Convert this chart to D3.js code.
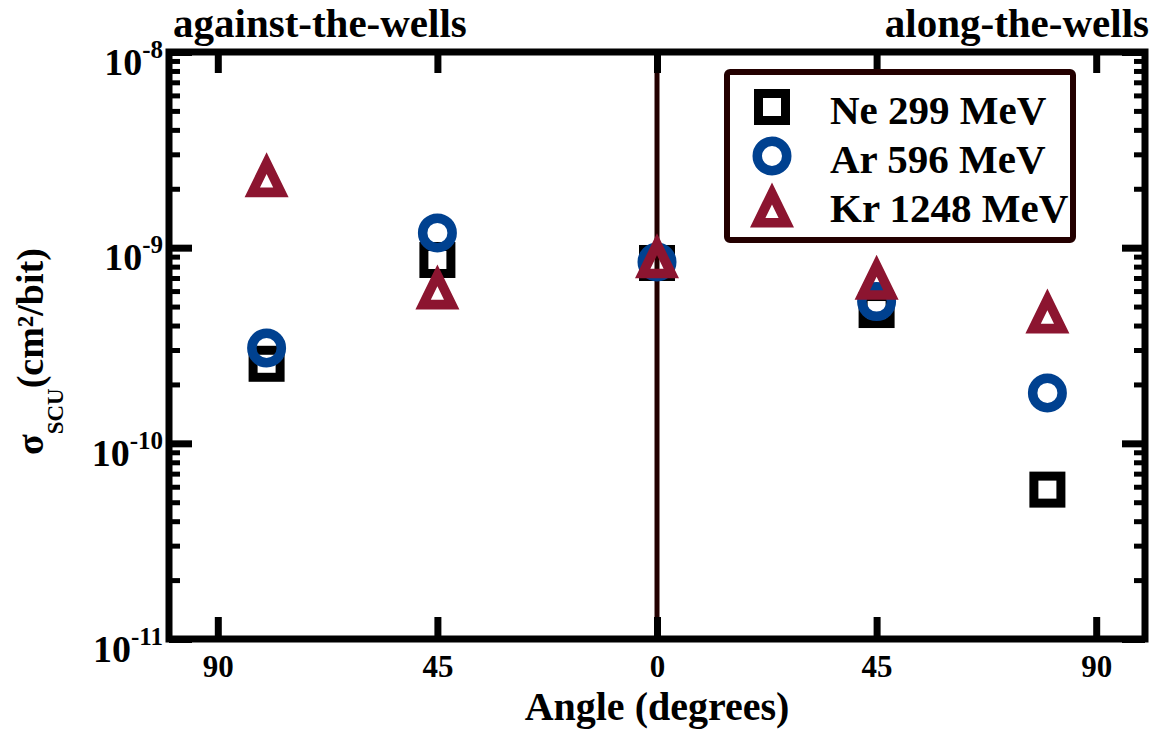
<!DOCTYPE html>
<html>
<head>
<meta charset="utf-8">
<script src="https://cdn.jsdelivr.net/npm/d3@7"></script>
<style>
  html, body { margin: 0; padding: 0; background: #fff; }
  svg { display: block; }
  text { font-family: "Liberation Serif", "Times New Roman", serif; font-weight: bold; fill: #000; }
</style>
</head>
<body>
<svg id="chart" width="1157" height="729"></svg>
<script>
// ---- data ----
const angles = [-80, -45, 0, 45, 80];
const neValues = [2.55e-10, 8.65e-10, 8.35e-10, 4.8e-10, 5.8e-11];
const arValues = [3.07e-10, 1.19e-9, 8.45e-10, 5.3e-10, 1.81e-10];
const krValues = [2.36e-9, 6.3e-10, 9.08e-10, 7.05e-10, 4.75e-10];
const seriesNames = ["Ne 299 MeV", "Ar 596 MeV", "Kr 1248 MeV"];
const seriesShapes = ["square", "circle", "triangle"];
const seriesColors = ["#000000", "#004190", "#8c1530"];
const xTickValues = [-90, -45, 0, 45, 90];
const xTickLabels = ["90", "45", "0", "45", "90"];
const yMajorTicks = [1e-11, 1e-10, 1e-9, 1e-8];
const yTickExponents = ["-11", "-10", "-9", "-8"];
const leftTitle = "against-the-wells";
const rightTitle = "along-the-wells";
const xTitle = "Angle (degrees)";

// ---- layout ----
const svg = d3.select("#chart");
const L = 169, R = 1145, T = 52, B = 639;
const x = d3.scaleLinear().domain([-100, 100]).range([L, R]);
const y = d3.scaleLog().domain([1e-11, 1e-8]).range([B, T]);

const yMinorTicks = [];
for (let e = -11; e < -8; e++) for (let k = 2; k <= 9; k++) yMinorTicks.push(k * Math.pow(10, e));

const frameColor = "#000";
const lineColor = "#230000";

// vertical divider at 0
svg.append("line")
  .attr("x1", x(0)).attr("x2", x(0)).attr("y1", T).attr("y2", B)
  .attr("stroke", lineColor).attr("stroke-width", 5);

function styleAxis(g, w) {
  g.select(".domain").remove();
  g.selectAll(".tick line").attr("stroke", frameColor).attr("stroke-width", w);
}

// x axes
const gxB = svg.append("g").attr("transform", `translate(0,${B})`)
  .call(d3.axisBottom(x).tickValues(xTickValues).tickSize(-22).tickPadding(16)
    .tickFormat((d, i) => xTickLabels[i]));
styleAxis(gxB, 7);
gxB.selectAll(".tick text").attr("font-size", 31).attr("font-family", null);

const gxT = svg.append("g").attr("transform", `translate(0,${T})`)
  .call(d3.axisTop(x).tickValues(xTickValues).tickSize(-21).tickFormat(""));
styleAxis(gxT, 7);

// y axes (left)
const gyLmin = svg.append("g").attr("transform", `translate(${L},0)`)
  .call(d3.axisLeft(y).tickValues(yMinorTicks).tickSize(-11).tickFormat(""));
styleAxis(gyLmin, 5);
const gyL = svg.append("g").attr("transform", `translate(${L},0)`)
  .call(d3.axisLeft(y).tickValues(yMajorTicks).tickSize(-23).tickPadding(6)
    .tickFormat(""));
styleAxis(gyL, 7);
gyL.selectAll(".tick text").each(function(d, i) {
  const t = d3.select(this).attr("dy", 22).attr("font-size", 38).attr("font-family", null)
    .attr("text-anchor", "end");
  t.text(null);
  t.append("tspan").text("10");
  t.append("tspan").attr("dy", -17).attr("font-size", 25).text(yTickExponents[i]);
});

// y axes (right)
const gyRmin = svg.append("g").attr("transform", `translate(${R},0)`)
  .call(d3.axisRight(y).tickValues(yMinorTicks).tickSize(-11).tickFormat(""));
styleAxis(gyRmin, 5);
const gyR = svg.append("g").attr("transform", `translate(${R},0)`)
  .call(d3.axisRight(y).tickValues(yMajorTicks).tickSize(-23).tickFormat(""));
styleAxis(gyR, 7);

// frame
svg.append("rect")
  .attr("x", L).attr("y", T).attr("width", R - L).attr("height", B - T)
  .attr("fill", "none").attr("stroke", frameColor).attr("stroke-width", 7);

// ---- markers ----
function trianglePath(cx, cy) {
  const hw = 22, hh = 22.5, k = 0.3;
  const icy = 8.77;
  const o = [[0, -hh], [-hw, hh], [hw, hh]];
  const inner = o.map(p => [k * p[0], icy + k * (p[1] - icy)]);
  const p = d3.path();
  p.moveTo(cx + o[0][0], cy + o[0][1]); p.lineTo(cx + o[1][0], cy + o[1][1]); p.lineTo(cx + o[2][0], cy + o[2][1]); p.closePath();
  p.moveTo(cx + inner[0][0], cy + inner[0][1]); p.lineTo(cx + inner[1][0], cy + inner[1][1]); p.lineTo(cx + inner[2][0], cy + inner[2][1]); p.closePath();
  return p.toString();
}
function drawMarker(g, shape, color, cx, cy) {
  if (shape === "square") {
    g.append("rect").attr("x", cx - 13.5).attr("y", cy - 13.5).attr("width", 27).attr("height", 27)
      .attr("fill", "none").attr("stroke", color).attr("stroke-width", 9);
  } else if (shape === "circle") {
    g.append("circle").attr("cx", cx).attr("cy", cy).attr("r", 14.75)
      .attr("fill", "none").attr("stroke", color).attr("stroke-width", 9.5);
  } else {
    g.append("path").attr("d", trianglePath(cx, cy)).attr("fill", color).attr("fill-rule", "evenodd");
  }
}

const seriesValues = [neValues, arValues, krValues];
const gm = svg.append("g");
seriesValues.forEach((vals, s) => {
  const gs = gm.append("g");
  vals.forEach((v, i) => drawMarker(gs, seriesShapes[s], seriesColors[s], x(angles[i]), y(v)));
});

// ---- legend ----
const lg = svg.append("g");
lg.append("rect").attr("x", 727).attr("y", 72).attr("width", 346).attr("height", 168).attr("rx", 3)
  .attr("fill", "#fff").attr("stroke", lineColor).attr("stroke-width", 6);
seriesNames.forEach((name, s) => {
  const cy = 107 + s * 49;
  drawMarker(lg, seriesShapes[s], seriesColors[s], 772, cy);
  lg.append("text").attr("x", 830).attr("y", cy + 17).attr("font-size", 41).text(name);
});

// ---- titles ----
svg.append("text").attr("x", 173).attr("y", 37).attr("font-size", 41).text(leftTitle);
svg.append("text").attr("x", 1149).attr("y", 37).attr("font-size", 41).attr("text-anchor", "end").text(rightTitle);
svg.append("text").attr("x", (L + R) / 2).attr("y", 719.5).attr("font-size", 40).attr("text-anchor", "middle").text(xTitle);

const yt = svg.append("text").attr("transform", "translate(43,455) rotate(-90)").attr("font-size", 38);
yt.append("tspan").text("σ");
yt.append("tspan").attr("dy", 20).attr("font-size", 23).text("SCU");
yt.append("tspan").attr("dy", -20).text("(cm²/bit)");
</script>
</body>
</html>
